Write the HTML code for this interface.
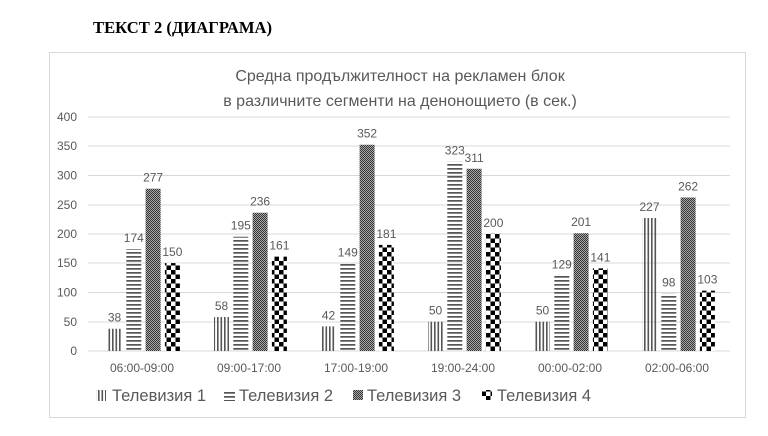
<!DOCTYPE html>
<html><head><meta charset="utf-8"><style>
body{margin:0;background:#fff;width:768px;height:436px;overflow:hidden}
svg{display:block}
</style></head><body>
<svg width="768" height="436" xmlns="http://www.w3.org/2000/svg">
<defs>
<pattern id="p1" width="3.5" height="4" patternUnits="userSpaceOnUse"><rect x="0" y="0" width="1.6" height="4" fill="#555"/></pattern>
<pattern id="p2" width="4" height="4" patternUnits="userSpaceOnUse"><rect x="0" y="0" width="4" height="1.7" fill="#555"/></pattern>
<pattern id="p3" width="2" height="2" patternUnits="userSpaceOnUse"><rect width="2" height="2" fill="#aaa"/><rect x="0" y="0" width="1" height="1" fill="#333"/><rect x="1" y="1" width="1" height="1" fill="#333"/></pattern>
<pattern id="p4" width="9" height="9" patternUnits="userSpaceOnUse"><rect width="9" height="9" fill="#fff"/><rect x="0" y="0" width="4.5" height="4.5" fill="#000"/><rect x="4.5" y="4.5" width="4.5" height="4.5" fill="#000"/></pattern>
</defs>
<text x="93" y="33" font-family="Liberation Serif, serif" font-weight="bold" font-size="16.5" fill="#000" textLength="179" lengthAdjust="spacingAndGlyphs">ТЕКСТ 2 (ДИАГРАМА)</text>
<rect x="49.5" y="52.5" width="696" height="365" fill="none" stroke="#d9d9d9"/>
<g font-family="Liberation Sans, DejaVu Sans, sans-serif" fill="#595959">
<text x="400" y="81" font-size="16" text-anchor="middle">Средна продължителност на рекламен блок</text>
<text x="400" y="106" font-size="16" text-anchor="middle">в различните сегменти на денонощието (в сек.)</text>
</g>
<g stroke="#d9d9d9" stroke-width="1">
<line x1="88" x2="730" y1="117" y2="117"/><line x1="88" x2="730" y1="146" y2="146"/><line x1="88" x2="730" y1="175.5" y2="175.5"/><line x1="88" x2="730" y1="205" y2="205"/><line x1="88" x2="730" y1="234" y2="234"/><line x1="88" x2="730" y1="263" y2="263"/><line x1="88" x2="730" y1="292.5" y2="292.5"/><line x1="88" x2="730" y1="322" y2="322"/><line x1="88" x2="730" y1="351" y2="351"/>
</g>
<g font-family="Liberation Sans, sans-serif" font-size="12" fill="#595959" text-anchor="end">
<text x="77" y="121">400</text><text x="77" y="150">350</text><text x="77" y="179.5">300</text><text x="77" y="209">250</text><text x="77" y="238">200</text><text x="77" y="267">150</text><text x="77" y="296.5">100</text><text x="77" y="326">50</text><text x="77" y="355">0</text>
</g>
<g id="bars"></g>
<g id="labels" font-family="Liberation Sans, sans-serif" font-size="12" fill="#595959" text-anchor="middle"></g>
<g font-family="Liberation Sans, sans-serif" font-size="16.5" fill="#595959">
<rect x="96" y="390" width="10" height="11" fill="url(#p1)"/><text x="112" y="401">Телевизия 1</text>
<rect x="224" y="390" width="11" height="11" fill="url(#p2)"/><text x="239" y="401">Телевизия 2</text>
<rect x="353" y="390" width="10" height="10" fill="url(#p3)"/><text x="367" y="401">Телевизия 3</text>
<rect x="482" y="390" width="10" height="10" fill="url(#p4)"/><text x="497" y="401">Телевизия 4</text>
</g>
<script>
var d=[[38,174,277,150],[58,195,236,161],[42,149,352,181],[50,323,311,200],[50,129,201,141],[227,98,262,103]];
var cats=["06:00-09:00","09:00-17:00","17:00-19:00","19:00-24:00","00:00-02:00","02:00-06:00"];
var ns="http://www.w3.org/2000/svg",b=document.getElementById("bars"),l=document.getElementById("labels");
function el(t,a,p,txt){var e=document.createElementNS(ns,t);for(var k in a)e.setAttribute(k,a[k]);if(txt)e.textContent=txt;p.appendChild(e);}
for(var i=0;i<6;i++){var x0=107+107*i;
 for(var j=0;j<4;j++){var v=d[i][j],h=v*0.586,x=x0+j*19.3;
  el("rect",{x:x,y:351-h,width:15,height:h,fill:"url(#p"+(j+1)+")"},b);
  el("text",{x:x+7.5,y:351-h-7},l,String(v));}
 el("text",{x:142+107*i,y:372},l,cats[i]);}
</script>
</svg>
</body></html>
